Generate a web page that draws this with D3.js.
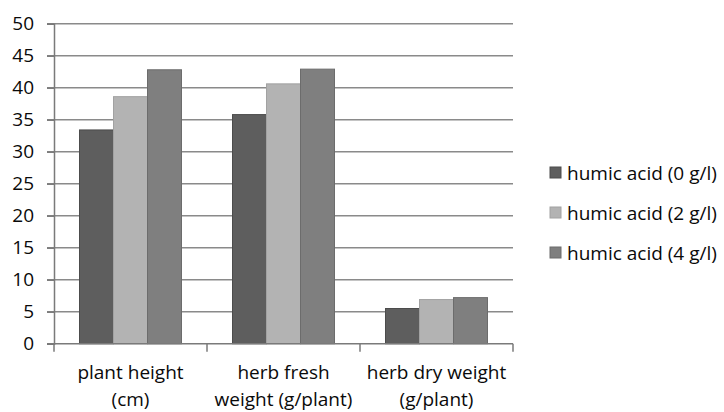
<!DOCTYPE html>
<html>
<head>
<meta charset="utf-8">
<script src="https://cdn.jsdelivr.net/npm/d3@7"></script>
<style>
  body { margin: 0; background: #fff; }
  text { font-family: "Open Sans", "Noto Sans", sans-serif; fill: #0a0a0a; }
</style>
</head>
<body>
<svg id="chart" width="724" height="412"></svg>
<script>
const categories = [["plant height", "(cm)"], ["herb fresh", "weight (g/plant)"], ["herb dry weight", "(g/plant)"]];
const seriesNames = ["humic acid (0 g/l)", "humic acid (2 g/l)", "humic acid (4 g/l)"];
const acid0 = [33.4, 35.8, 5.5];
const acid2 = [38.6, 40.6, 6.9];
const acid4 = [42.8, 42.9, 7.2];
const yTicks = [0, 5, 10, 15, 20, 25, 30, 35, 40, 45, 50];

const fills = ["#5e5e5e", "#b3b3b3", "#7f7f7f"];
const strokes = ["#4c4c4c", "#a2a2a2", "#6c6c6c"];
const series = [acid0, acid2, acid4];
const fontSize = "19px";

const svg = d3.select("#chart");
const mLeft = 54, mRight = 513, mTop = 23.7, mBottom = 343.7;

const x = d3.scaleBand().domain(d3.range(categories.length)).range([mLeft, mRight]).paddingInner(0).paddingOuter(0);
// bars take 3/4.5 of each category (gap 150%)
const xs = d3.scaleBand().domain(d3.range(series.length)).range([0, x.bandwidth()]).paddingOuter(0.75);
const y = d3.scaleLinear().domain([0, 50]).range([mBottom, mTop]);

// gridlines
svg.append("g").selectAll("line")
  .data(yTicks.filter(d => d > 0))
  .join("line")
  .attr("x1", mLeft - 7).attr("x2", mRight)
  .attr("y1", d => y(d)).attr("y2", d => y(d))
  .attr("stroke", "#8a8a8a").attr("stroke-width", 1.5);

// y axis
const yAxis = svg.append("g")
  .attr("transform", `translate(${mLeft},0)`)
  .call(d3.axisLeft(y).tickValues(yTicks).tickSize(7).tickPadding(13));
yAxis.select(".domain").attr("stroke", "#7a7a7a").attr("stroke-width", 1.5);
yAxis.selectAll(".tick line").attr("stroke", "#7a7a7a").attr("stroke-width", 1.5);
yAxis.selectAll("text").style("font-size", fontSize).attr("fill", "#0a0a0a");

// bars
series.forEach((vals, si) => {
  svg.append("g").selectAll("rect")
    .data(vals)
    .join("rect")
    .attr("x", (d, i) => x(i) + xs(si))
    .attr("width", xs.bandwidth())
    .attr("y", d => y(d))
    .attr("height", d => mBottom - y(d))
    .attr("fill", fills[si])
    .attr("stroke", strokes[si])
    .attr("stroke-width", 1);
});

// x axis
svg.append("line")
  .attr("x1", mLeft - 7).attr("x2", mRight)
  .attr("y1", mBottom).attr("y2", mBottom)
  .attr("stroke", "#7a7a7a").attr("stroke-width", 1.5);
svg.append("g").selectAll("line")
  .data(d3.range(categories.length + 1))
  .join("line")
  .attr("x1", d => mLeft + d * x.bandwidth()).attr("x2", d => mLeft + d * x.bandwidth())
  .attr("y1", mBottom).attr("y2", mBottom + 8)
  .attr("stroke", "#7a7a7a").attr("stroke-width", 1.5);

// category labels
const lab = svg.append("g").selectAll("text")
  .data(categories)
  .join("text")
  .attr("x", (d, i) => x(i) + x.bandwidth() / 2)
  .attr("y", 379)
  .attr("text-anchor", "middle")
  .style("font-size", fontSize);
lab.selectAll("tspan")
  .data(d => d)
  .join("tspan")
  .attr("x", function () { return this.parentNode.getAttribute("x"); })
  .attr("dy", (d, i) => i === 0 ? 0 : 27)
  .text(d => d);

// legend
const leg = svg.append("g").selectAll("g")
  .data(seriesNames)
  .join("g")
  .attr("transform", (d, i) => `translate(550,${173 + i * 40})`);
leg.append("rect")
  .attr("x", 0).attr("y", -6).attr("width", 11).attr("height", 11)
  .attr("fill", (d, i) => fills[i]).attr("stroke", (d, i) => strokes[i]);
leg.append("text")
  .attr("x", 17).attr("y", 6.5)
  .style("font-size", fontSize)
  .text(d => d);
</script>
</body>
</html>
